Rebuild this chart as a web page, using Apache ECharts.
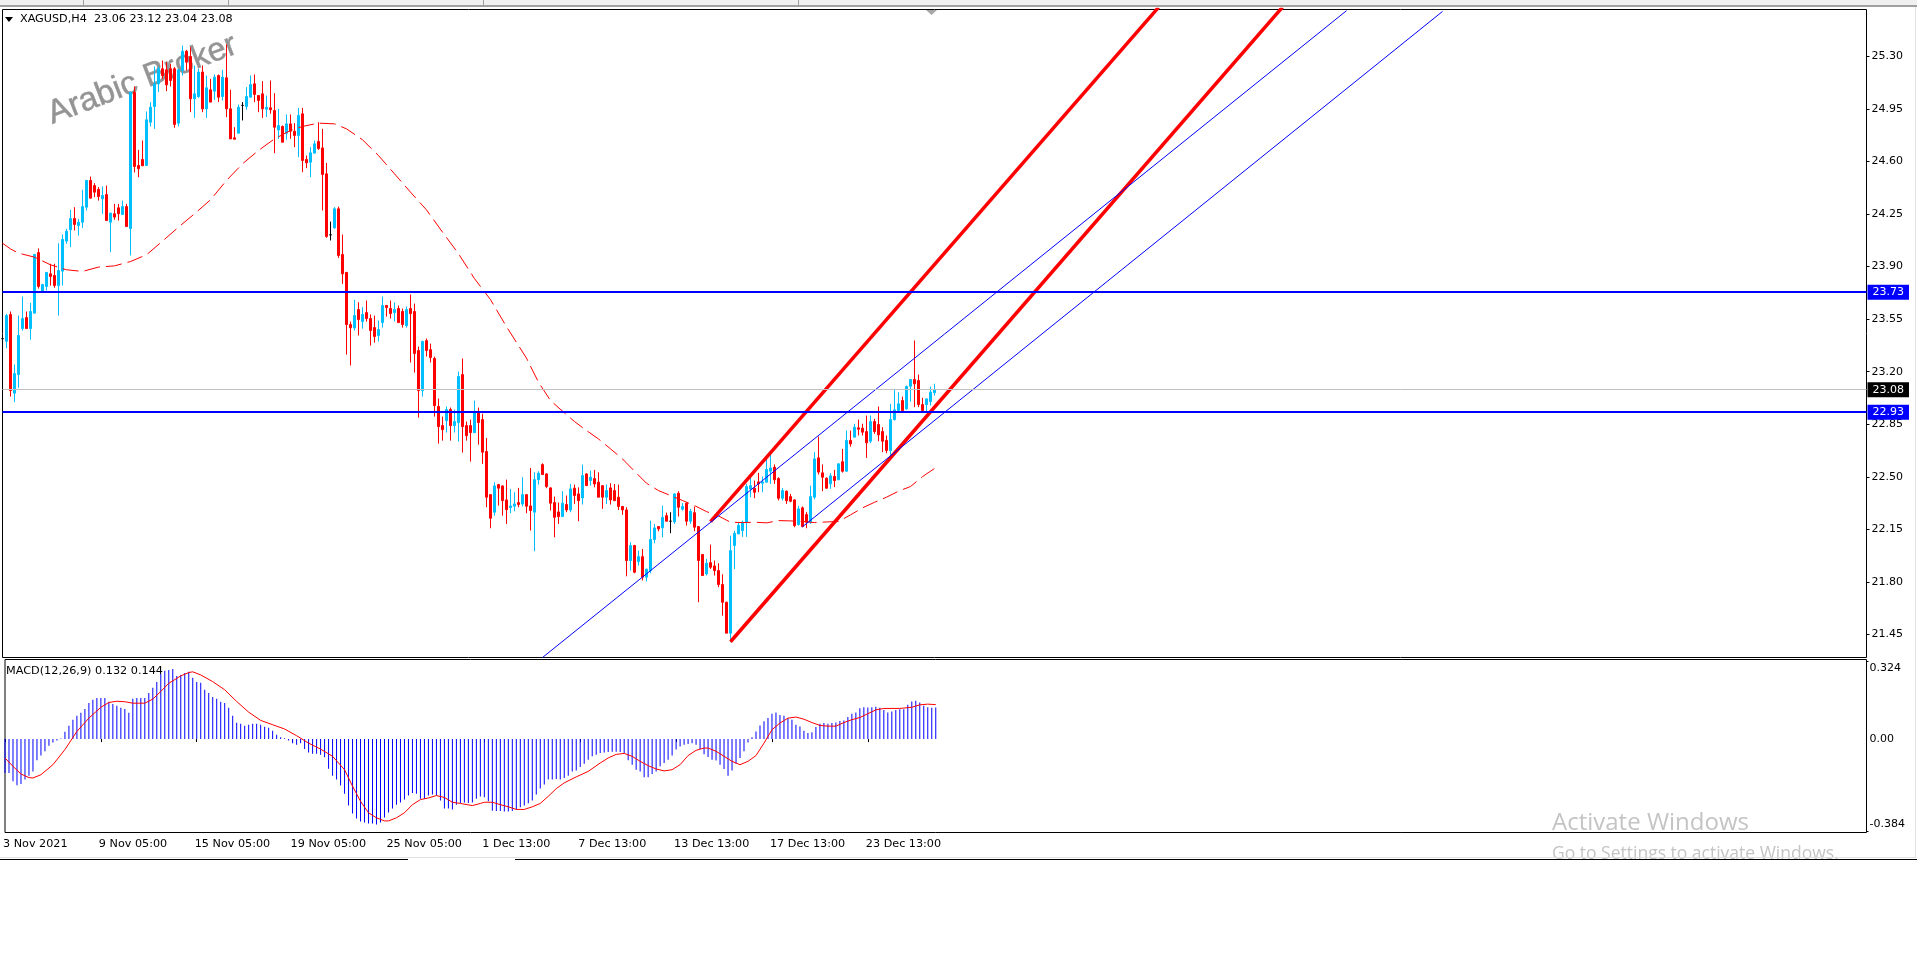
<!DOCTYPE html>
<html><head><meta charset="utf-8">
<style>html,body{margin:0;padding:0;background:#fff}#c{width:1917px;height:962px}</style>
<script src="https://cdn.jsdelivr.net/npm/echarts@6/dist/echarts.min.js"></script>
</head><body><div id="c"></div>
<script>
const xTickLabels = ['3 Nov 2021','9 Nov 05:00','15 Nov 05:00','19 Nov 05:00','25 Nov 05:00','1 Dec 13:00','7 Dec 13:00','13 Dec 13:00','17 Dec 13:00','23 Dec 13:00'];
const priceTicks = [25.30,24.95,24.60,24.25,23.90,23.55,23.20,22.85,22.50,22.15,21.80,21.45];
const macdTicks = [0.324,0,-0.384];
const opens = [23.42,23.403,23.581,23.057,23.181,23.487,23.561,23.487,23.59,23.994,
23.732,23.768,23.852,23.841,23.774,23.87,24.07,24.145,24.221,24.174,
24.196,24.296,24.474,24.44,24.414,24.352,24.38,24.196,24.252,24.292,
24.247,24.3,24.154,25.062,24.574,24.614,24.574,24.862,24.967,25.118,
25.218,25.211,25.218,25.218,24.856,25.207,25.335,25.3,25.018,25.033,
25.196,24.951,25.078,25.069,25.173,25.033,25.158,24.951,24.758,24.789,
24.974,24.967,25.029,25.118,25.04,25.051,24.949,24.958,24.94,24.811,
24.834,24.789,24.851,24.802,24.774,24.918,24.614,24.596,24.656,24.734,
24.691,24.518,24.112,24.158,24.285,23.981,23.861,23.514,23.492,23.614,
23.534,23.594,23.554,23.494,23.441,23.527,23.641,23.621,23.594,23.621,
23.601,23.507,23.621,23.601,23.341,23.074,23.407,23.347,23.288,22.968,
22.841,22.874,22.948,22.841,22.861,23.181,22.841,22.841,22.794,22.934,
22.881,22.668,22.381,22.264,22.448,22.439,22.346,22.295,22.304,22.328,
22.319,22.381,22.306,22.264,22.481,22.581,22.519,22.426,22.328,22.266,
22.235,22.315,22.279,22.424,22.386,22.359,22.519,22.475,22.488,22.464,
22.441,22.364,22.426,22.408,22.364,22.302,22.279,21.942,22.042,21.935,
21.968,21.831,21.875,22.082,22.168,22.16,22.241,22.204,22.199,22.39,
22.284,22.324,22.204,22.261,22.168,21.982,21.853,21.928,21.906,21.875,
21.782,21.664,21.458,22.042,22.119,22.141,22.197,22.419,22.423,22.466,
22.457,22.464,22.537,22.564,22.488,22.357,22.404,22.368,22.346,22.182,
22.293,22.248,22.197,22.364,22.626,22.526,22.491,22.453,22.502,22.48,
22.6,22.537,22.742,22.764,22.826,22.824,22.801,22.737,22.868,22.848,
22.801,22.742,22.675,22.881,22.941,23.008,22.952,23.103,23.148,23.141,
22.981,22.981,23.001,23.06];
const closes = [23.42,23.574,23.074,23.188,23.441,23.554,23.487,23.601,23.981,23.768,
23.781,23.861,23.834,23.774,23.874,24.081,24.136,24.221,24.181,24.196,
24.3,24.474,24.356,24.396,24.367,24.374,24.207,24.256,24.23,24.252,
24.3,24.167,25.062,24.567,24.552,24.572,24.878,24.962,25.118,25.218,
25.173,25.111,25.14,24.847,25.211,25.335,25.262,25.018,25.051,25.196,
24.951,25.091,24.996,25.162,25.029,25.162,24.951,24.751,24.749,24.962,
24.974,25.033,25.113,25.047,25.007,24.951,24.962,24.945,24.829,24.84,
24.729,24.851,24.802,24.774,24.907,24.607,24.592,24.658,24.718,24.687,
24.514,24.101,24.112,24.285,23.974,23.852,23.514,23.492,23.574,23.547,
23.581,23.554,23.474,23.434,23.481,23.641,23.627,23.587,23.614,23.527,
23.514,23.614,23.587,23.321,23.074,23.401,23.341,23.294,22.974,22.834,
22.814,22.948,22.841,22.868,23.168,22.834,22.774,22.794,22.934,22.861,
22.664,22.364,22.224,22.439,22.424,22.341,22.281,22.306,22.319,22.315,
22.381,22.304,22.275,22.481,22.524,22.515,22.435,22.324,22.23,22.235,
22.324,22.279,22.419,22.375,22.341,22.508,22.441,22.497,22.452,22.364,
22.364,22.408,22.346,22.341,22.302,22.279,21.942,22.042,21.864,21.968,
21.831,21.884,22.082,22.159,22.153,22.23,22.204,22.204,22.386,22.297,
22.302,22.204,22.27,22.164,21.942,21.842,21.924,21.897,21.875,21.782,
21.664,21.458,22.008,22.124,22.177,22.197,22.435,22.441,22.397,22.453,
22.466,22.548,22.559,22.48,22.357,22.408,22.341,22.337,22.175,22.286,
22.168,22.197,22.368,22.619,22.531,22.497,22.424,22.506,22.475,22.586,
22.537,22.742,22.719,22.83,22.817,22.797,22.726,22.868,22.801,22.779,
22.737,22.675,22.881,22.946,22.986,22.941,23.101,23.148,23.119,22.981,
22.941,23.019,23.064,23.08];
const lows = [23.375,23.356,23.034,22.997,23.094,23.474,23.487,23.414,23.59,23.754,
23.73,23.741,23.774,23.759,23.574,23.774,24.052,24.03,24.141,24.107,
24.158,24.274,24.356,24.363,24.34,24.252,24.207,23.996,24.212,24.207,
24.247,24.167,23.974,24.527,24.496,24.572,24.57,24.834,24.818,25.062,
25.151,25.069,25.1,24.825,24.834,25.173,25.207,24.929,24.891,25.024,
24.929,24.891,24.996,25.011,24.996,25.007,24.896,24.751,24.749,24.789,
24.874,24.945,25.029,24.996,24.929,24.891,24.896,24.918,24.656,24.751,
24.729,24.745,24.751,24.696,24.629,24.529,24.556,24.496,24.656,24.678,
24.274,24.092,24.074,24.152,23.958,23.785,23.314,23.241,23.474,23.441,
23.487,23.534,23.374,23.394,23.401,23.494,23.567,23.554,23.534,23.527,
23.494,23.494,23.261,23.194,22.894,23.034,23.301,23.261,22.901,22.721,
22.741,22.795,22.741,22.795,22.735,22.661,22.741,22.601,22.795,22.714,
22.586,22.297,22.157,22.241,22.308,22.241,22.186,22.257,22.27,22.297,
22.302,22.257,22.142,22.004,22.448,22.515,22.424,22.275,22.097,22.186,
22.235,22.264,22.264,22.32,22.204,22.315,22.441,22.441,22.43,22.364,
22.286,22.319,22.315,22.341,22.279,22.246,21.837,21.875,21.857,21.908,
21.809,21.802,21.857,22.057,22.137,22.097,22.204,22.124,22.186,22.235,
22.275,22.175,22.186,22.137,21.664,21.842,21.842,21.886,21.842,21.764,
21.575,21.458,21.398,21.886,22.119,22.1,22.1,22.364,22.357,22.397,
22.397,22.464,22.453,22.453,22.342,22.342,22.319,22.33,22.164,22.175,
22.164,22.157,22.186,22.35,22.515,22.404,22.42,22.42,22.431,22.48,
22.528,22.535,22.701,22.764,22.775,22.775,22.626,22.724,22.786,22.737,
22.664,22.657,22.642,22.875,22.941,22.941,22.946,23.001,22.964,22.964,
22.941,22.93,22.975,23.04];
const highs = [23.45,23.585,23.601,23.248,23.574,23.701,23.601,23.659,23.985,24.021,
23.785,23.865,23.919,23.919,24.056,24.114,24.152,24.278,24.296,24.218,
24.412,24.478,24.5,24.456,24.43,24.434,24.44,24.26,24.318,24.318,
24.34,24.318,25.065,25.1,24.678,24.74,24.934,24.996,25.233,25.233,
25.273,25.262,25.25,25.229,25.218,25.373,25.344,25.362,25.24,25.218,
25.24,25.173,25.151,25.18,25.18,25.211,25.38,25.078,24.829,24.98,
24.996,25.096,25.173,25.18,25.04,25.136,25.04,25.14,25.056,24.951,
24.84,24.914,24.914,24.856,24.958,24.958,24.64,24.696,24.74,24.862,
24.818,24.591,24.2,24.296,24.3,24.114,23.865,23.534,23.679,23.663,
23.63,23.674,23.581,23.574,23.541,23.701,23.645,23.674,23.661,23.641,
23.621,23.634,23.714,23.654,23.367,23.407,23.421,23.387,23.301,23.021,
22.901,22.968,22.961,22.948,23.201,23.288,22.868,22.881,23.008,22.961,
22.92,22.759,22.385,22.464,22.453,22.443,22.481,22.419,22.397,22.426,
22.497,22.385,22.559,22.53,22.537,22.59,22.523,22.43,22.368,22.328,
22.404,22.375,22.452,22.448,22.43,22.581,22.523,22.541,22.546,22.53,
22.445,22.448,22.457,22.452,22.448,22.306,22.297,22.064,22.046,22.008,
22.019,21.888,22.208,22.186,22.172,22.308,22.261,22.264,22.39,22.404,
22.324,22.328,22.286,22.301,22.172,21.986,21.953,22.048,21.942,21.924,
21.85,21.668,22.108,22.141,22.197,22.208,22.453,22.492,22.475,22.526,
22.502,22.642,22.648,22.582,22.497,22.424,22.408,22.386,22.35,22.306,
22.302,22.264,22.441,22.664,22.768,22.582,22.495,22.524,22.546,22.59,
22.686,22.808,22.808,22.853,22.881,22.853,22.908,22.908,22.886,22.968,
22.83,22.775,22.986,23.086,23.064,23.034,23.108,23.148,23.408,23.181,
23.026,23.019,23.101,23.12];
const maIdx = [0,2,4,8,12,16,20,24,28,32,36,40,44,48,52,56,60,64,68,72,75,79,83,86,90,94,98,102,106,110,114,118,122,126,131,134,137,140,143,146,149,152,155,158,161,164,167,170,173,176,179,182,185,188,191,194,197,200,203,206,209,212,215,218,221,224,227,230,233];
const maVal = [24.056,24.018,23.99,23.963,23.912,23.879,23.868,23.897,23.905,23.934,23.979,24.07,24.163,24.252,24.345,24.474,24.585,24.674,24.751,24.807,24.834,24.856,24.851,24.818,24.745,24.64,24.518,24.396,24.278,24.13,23.986,23.82,23.68,23.5,23.29,23.13,23.008,22.937,22.868,22.808,22.752,22.686,22.619,22.537,22.457,22.408,22.375,22.342,22.308,22.268,22.239,22.197,22.195,22.197,22.193,22.208,22.206,22.202,22.195,22.199,22.202,22.246,22.293,22.33,22.364,22.404,22.435,22.501,22.555];
const macdHist = [-.142,-.142,-.176,-.193,-.188,-.169,-.153,-.136,-.089,-.069,-.051,-.028,-.014,-.006,.002,
.031,.056,.081,.097,.110,.126,.151,.164,.172,.172,.172,.156,.147,.139,.131,.126,.110,.168,.172,.172,.172,.193,.214,.239,.272,.285,.289,.293,.264,.268,.276,.281,.256,.239,.235,.206,.193,.176,.168,.156,.151,.131,.097,.068,.064,.056,.060,.064,.064,.060,.051,.047,.035,.018,.008,.003,
-.006,-.017,-.024,-.017,-.042,-.056,-.061,-.061,-.065,-.076,-.124,-.153,-.169,-.194,-.228,-.278,-.311,-.332,-.344,-.349,-.353,-.353,-.357,-.349,-.328,-.307,-.290,-.274,-.265,-.253,-.236,-.225,-.228,-.249,-.249,-.236,-.232,-.236,-.257,-.290,-.290,-.294,-.274,-.267,-.265,-.267,-.265,-.249,-.240,
-.243,-.260,-.299,-.301,-.301,-.303,-.303,-.301,-.294,-.285,-.278,-.268,-.257,-.232,-.207,-.190,-.169,-.169,-.167,-.169,-.163,-.153,-.135,-.131,-.117,-.103,-.086,-.072,-.065,-.058,-.056,-.054,-.053,-.053,-.054,-.058,-.089,-.107,-.128,-.135,-.160,-.160,-.146,-.135,-.114,-.100,-.086,-.069,-.044,-.031,-.024,-.021,-.017,-.024,-.042,-.063,-.075,-.086,-.090,-.107,-.125,-.153,-.131,-.103,-.079,-.051,-.014,.008,.032,.057,.074,.088,.106,.111,.101,.097,.088,.081,.060,.053,.035,.025,.028,.050,.064,.067,.064,.067,.069,.076,.078,.092,.106,.111,.129,.133,.132,.133,.135,.131,.122,.111,.115,.122,.125,.125,.143,.157,.160,.153,.139,.133,.131,.132];
const sigIdx = [0,2,4,6,7,9,12,15,18,21,24,26,28,30,32,35,37,39,41,44,46,47,49,52,55,58,61,64,67,70,73,76,79,82,85,87,89,91,93,95,96,98,100,102,104,106,108,110,112,114,117,119,120,122,124,126,128,130,132,134,136,138,140,143,146,149,151,153,155,157,159,161,163,165,167,169,171,173,175,176,178,180,182,184,186,188,190,192,194,196,198,200,202,204,206,208,210,212,214,216,218,220,224,227,229,231,233];
const sigVal = [-.079,-.114,-.146,-.161,-.1625,-.149,-.107,-.044,.032,.0875,.133,.153,.158,.156,.15,.15,.167,.199,.233,.264,.278,.281,.268,.24,.206,.157,.1125,.078,.06,.042,.014,-.017,-.042,-.072,-.128,-.197,-.26,-.308,-.329,-.342,-.342,-.329,-.308,-.274,-.253,-.246,-.236,-.244,-.264,-.269,-.278,-.269,-.264,-.264,-.274,-.283,-.294,-.294,-.283,-.269,-.239,-.207,-.183,-.158,-.135,-.1,-.079,-.064,-.06,-.072,-.093,-.111,-.125,-.133,-.128,-.107,-.069,-.047,-.0375,-.0375,-.051,-.072,-.093,-.107,-.093,-.069,-.017,.039,.067,.0875,.092,.083,.069,.057,.054,.054,.069,.081,.09,.106,.122,.128,.128,.133,.143,.146,.144];
const redChannelA = [[177,22.201],[289,25.627]];
const redChannelB = [[182,21.401],[320,25.629]];
const blueChannelA = [[135,21.296],[336,25.605]];
const blueChannelB = [[200,22.167],[360,25.6]];
const levelUpper = 23.73, levelLower = 22.93, lastClose = 23.08;

const N = 467;
const categories = Array.from({length:N},(_,i)=> i%24===0 ? (xTickLabels[i/24]||'') : '');
const hasLabel = (i,v)=> v!=='';
const zip=(a,b)=>a.map((v,i)=>[v,b[i]]);
const FONT='DejaVu Sans';
const ohlc = opens.map((o,i)=>[o,closes[i],lows[i],highs[i]]);
const tl=(d,color,width)=>({type:'line',xAxisIndex:0,yAxisIndex:0,data:d,symbol:'none',silent:true,z:6,lineStyle:{color,width}});
const tag=(v,bg,color,width)=>({yAxis:v,lineStyle:{color,width,type:'solid'},label:{show:true,position:'end',distance:1,formatter:v.toFixed(2),color:'#fff',backgroundColor:bg,fontFamily:FONT,fontSize:11,padding:[2,5,1,5],lineHeight:12}});

const chart = echarts.init(document.getElementById('c'),null,{renderer:'canvas'});
chart.setOption({
  animation:false,
  backgroundColor:'#fff',
  grid:[
    {left:2.5,top:9.5,width:1864,height:648,show:true,borderColor:'#000',borderWidth:1,backgroundColor:'#fff'},
    {left:2.5,top:659.5,width:1864,height:173,show:true,borderColor:'#000',borderWidth:1,backgroundColor:'#fff'}
  ],
  xAxis:[
    {type:'category',gridIndex:0,data:categories,boundaryGap:false,axisLine:{show:false},axisTick:{show:false},axisLabel:{show:false},splitLine:{show:false}},
    {type:'category',gridIndex:1,data:categories,boundaryGap:false,axisLine:{show:false},
     axisTick:{show:true,length:3,interval:hasLabel,lineStyle:{color:'#000'}},
     axisLabel:{show:true,interval:hasLabel,align:'left',margin:6,padding:[0,0,0,-2],color:'#000',fontFamily:FONT,fontSize:11.2,hideOverlap:false},splitLine:{show:false}}
  ],
  yAxis:[
    {type:'value',gridIndex:0,position:'right',min:21.296,max:25.613,splitLine:{show:false},
     axisLine:{show:false},axisTick:{show:true,length:3,customValues:priceTicks,lineStyle:{color:'#000'}},
     axisLabel:{show:true,customValues:priceTicks,margin:5,padding:[2,0,0,0],color:'#000',fontFamily:FONT,fontSize:11,formatter:v=>v.toFixed(2)}},
    {type:'value',gridIndex:1,position:'right',min:-0.3904,max:0.3325,splitLine:{show:false},
     axisLine:{show:false},axisTick:{show:true,length:2,customValues:[0.324,-0.384],lineStyle:{color:'#000'}},
     axisLabel:{show:true,customValues:macdTicks,margin:3,padding:[2,0,0,0],color:'#000',fontFamily:FONT,fontSize:11,lineHeight:13,
       formatter:v=> v>0.3?'\n'+v.toFixed(3): v<-0.3? v.toFixed(3)+'\n' : v.toFixed(2)}}
  ],
  series:[
    {type:'candlestick',xAxisIndex:0,yAxisIndex:0,data:ohlc,barWidth:3,z:3,silent:true,
     itemStyle:{color:'#00BFFF',color0:'#FF0000',borderColor:'#00BFFF',borderColor0:'#FF0000',borderColorDoji:'#000',borderWidth:1},
     markLine:{silent:true,symbol:'none',animation:false,precision:2,z:7,data:[
       tag(lastClose,'#000','#C0C0C0',1),tag(levelUpper,'#0000FF','#0000FF',2),tag(levelLower,'#0000FF','#0000FF',2)
     ]}},
    {type:'line',xAxisIndex:0,yAxisIndex:0,data:zip(maIdx,maVal),symbol:'none',silent:true,z:4,lineStyle:{color:'#FF0000',width:1,type:[16,6]}},
    tl(redChannelA,'#FF0000',3.5),tl(redChannelB,'#FF0000',3.5),tl(blueChannelA,'#0000FF',1),tl(blueChannelB,'#0000FF',1),
    {type:'bar',xAxisIndex:1,yAxisIndex:1,data:macdHist,barWidth:1,silent:true,itemStyle:{color:'#0000FF'},z:3},
    {type:'line',xAxisIndex:1,yAxisIndex:1,data:zip(sigIdx,sigVal),symbol:'none',silent:true,z:4,lineStyle:{color:'#FF0000',width:1}}
  ],
  graphic:{elements:[
    {type:'text',z:1,x:55,y:131,rotation:21*Math.PI/180,style:{text:'Arabic Broker',fill:'#949494',stroke:'#a8a8a8',lineWidth:0.6,font:'33px "Liberation Sans"',textVerticalAlign:'bottom',textAlign:'left'}},
    {type:'polygon',z:10,shape:{points:[[5,17],[13,17],[9,22]]},style:{fill:'#000'}},
    {type:'text',z:10,x:20,y:19,style:{text:'XAGUSD,H4  23.06 23.12 23.04 23.08',fill:'#000',font:'11.2px "DejaVu Sans"',textVerticalAlign:'middle'}},
    {type:'text',z:10,x:6,y:671,style:{text:'MACD(12,26,9) 0.132 0.144',fill:'#000',font:'11.25px "DejaVu Sans"',textVerticalAlign:'middle'}},
    {type:'polygon',z:10,shape:{points:[[926,10],[937,10],[931.5,15]]},style:{fill:'#a8a8a8'}},
    {type:'text',z:20,x:1552,y:823,style:{text:'Activate Windows',fill:'#c4c4c4',font:'24px "Open Sans"',textVerticalAlign:'middle'}},
    {type:'text',z:20,x:1552,y:854,style:{text:'Go to Settings to activate Windows.',fill:'#c4c4c4',font:'17.5px "Open Sans"',textVerticalAlign:'middle'}},
    {type:'rect',z:30,shape:{x:0,y:860,width:1917,height:102},style:{fill:'#fff'}},
    {type:'rect',z:30,shape:{x:0,y:0,width:1917,height:5},style:{fill:'#f0f0f0'}},
    {type:'rect',z:31,shape:{x:0,y:5,width:1917,height:2},style:{fill:'#a0a0a0'}},
    {type:'rect',z:31,shape:{x:83,y:0,width:1,height:5},style:{fill:'#a0a0a0'}},
    {type:'rect',z:31,shape:{x:228,y:0,width:1,height:5},style:{fill:'#a0a0a0'}},
    {type:'rect',z:31,shape:{x:483,y:0,width:1,height:5},style:{fill:'#a0a0a0'}},
    {type:'rect',z:31,shape:{x:798,y:0,width:1,height:5},style:{fill:'#a0a0a0'}},
    {type:'rect',z:31,shape:{x:0,y:857,width:1915,height:1},style:{fill:'#e0e0e0'}},
    {type:'rect',z:31,shape:{x:1915,y:7,width:1,height:851},style:{fill:'#e0e0e0'}},
    {type:'rect',z:31,shape:{x:0,y:859,width:408,height:1},style:{fill:'#000'}},
    {type:'rect',z:31,shape:{x:515,y:859,width:1402,height:1},style:{fill:'#000'}}
  ]}
});
</script></body></html>
